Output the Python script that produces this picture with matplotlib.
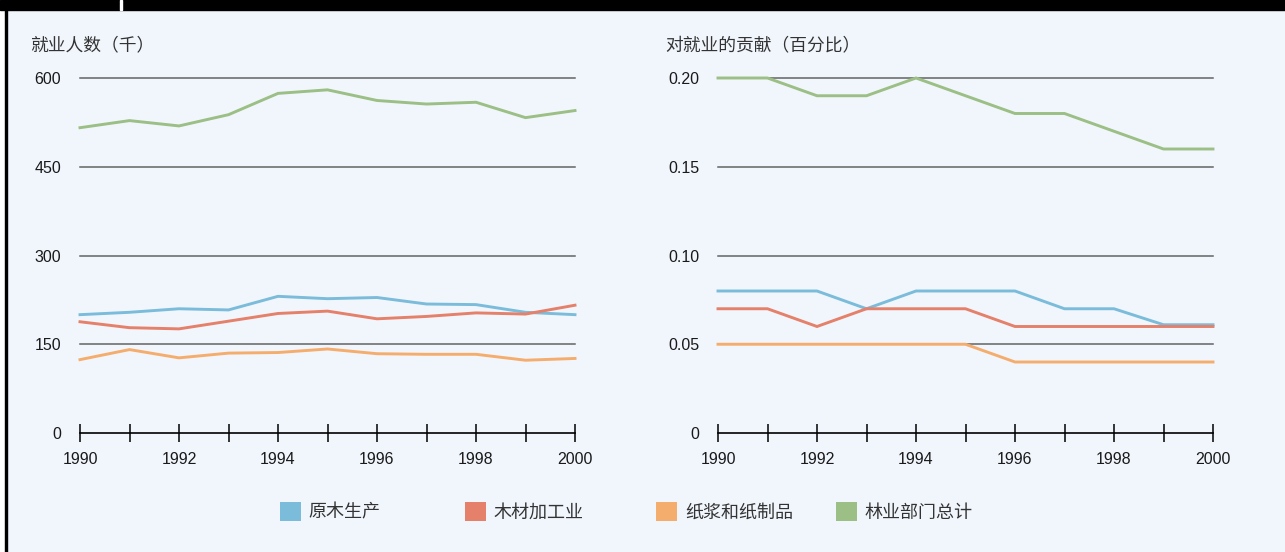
import matplotlib
matplotlib.use("Agg")
import matplotlib.pyplot as plt
from matplotlib.patches import Rectangle, Patch

plt.rcParams['font.family'] = ['Liberation Sans', 'Noto Sans CJK SC', 'DejaVu Sans']

years = list(range(1990, 2001))
series_names = ['原木生产', '木材加工业', '纸浆和纸制品', '林业部门总计']
colors = ['#7bbcdb', '#e5806a', '#f5ad6e', '#9bbf85']

# employment, thousands
emp_logging = [200, 204, 210, 208, 231, 227, 229, 218, 217, 204, 200]
emp_wood = [188, 178, 176, 189, 202, 206, 193, 197, 203, 201, 216]
emp_paper = [124, 141, 127, 135, 136, 142, 134, 133, 133, 123, 126]
emp_total = [516, 528, 519, 538, 574, 580, 562, 556, 559, 533, 545]

# share of total employment, percent
pct_logging = [0.08, 0.08, 0.08, 0.07, 0.08, 0.08, 0.08, 0.07, 0.07, 0.061, 0.061]
pct_wood = [0.07, 0.07, 0.06, 0.07, 0.07, 0.07, 0.06, 0.06, 0.06, 0.06, 0.06]
pct_paper = [0.05, 0.05, 0.05, 0.05, 0.05, 0.05, 0.04, 0.04, 0.04, 0.04, 0.04]
pct_total = [0.20, 0.20, 0.19, 0.19, 0.20, 0.19, 0.18, 0.18, 0.17, 0.16, 0.16]

left_ticks = [0, 150, 300, 450, 600]
left_labels = ['0', '150', '300', '450', '600']
right_ticks = [0, 0.05, 0.10, 0.15, 0.20]
right_labels = ['0', '0.05', '0.10', '0.15', '0.20']

BG = '#f1f6fd'
W, H = 1285, 552
fig = plt.figure(figsize=(W / 100, H / 100), dpi=100, facecolor=BG)

# frame: black strip along the top, thin rule down the left side
fig.patches.append(Rectangle((0, 1 - 9.5 / H), 1, 9.5 / H, transform=fig.transFigure,
                             color='black', zorder=5))
fig.patches.append(Rectangle((120 / W, 1 - 9.5 / H), 2.5 / W, 9.5 / H, transform=fig.transFigure,
                             color='white', zorder=6))
fig.patches.append(Rectangle((5 / W, 0), 1.8 / W, 1, transform=fig.transFigure,
                             color='black', zorder=5))
fig.patches.append(Rectangle((0, 0), 5 / W, 1 - 9.5 / H, transform=fig.transFigure,
                             color='white', zorder=4))


def px_axes(x0, x1, ytop, ybot):
    return fig.add_axes([x0 / W, 1 - ybot / H, (x1 - x0) / W, (ybot - ytop) / H])


def draw_panel(ax, data, ticks, labels, title, title_x):
    ax.set_facecolor('none')
    ax.set_xlim(1990, 2000)
    ax.set_ylim(ticks[0], ticks[-1])
    for s in ax.spines.values():
        s.set_visible(False)
    for t in ticks[1:]:
        ax.axhline(t, color='#636363', lw=1.1, zorder=1, clip_on=False)
    ax.axhline(ticks[0], color='black', lw=1.2, zorder=1, clip_on=False)
    for vals, c in zip(data, colors):
        ax.plot(years, vals, color=c, lw=2.1, zorder=3, clip_on=False,
                solid_joinstyle='miter')
    ax.set_yticks(ticks)
    ax.set_yticklabels(labels)
    ax.tick_params(axis='y', length=0, pad=13.5, labelsize=11.5, labelcolor='#1a1a1a')
    ax.set_xticks(years)
    ax.set_xticklabels([str(y) if y % 2 == 0 else '' for y in years])
    ax.tick_params(axis='x', direction='inout', length=13, width=1.1, color='black',
                   pad=7, labelsize=11.5, labelcolor='#1a1a1a')
    fig.text(title_x / W, 1 - 45 / H, title, fontsize=12.8, color='#333333',
             va='center', ha='left', family=['Noto Sans CJK SC', 'DejaVu Sans'])


ax1 = px_axes(80, 575, 78, 433)
draw_panel(ax1, [emp_logging, emp_wood, emp_paper, emp_total],
           left_ticks, left_labels, '就业人数（千）', 30)

ax2 = px_axes(718, 1213, 78, 433)
draw_panel(ax2, [pct_logging, pct_wood, pct_paper, pct_total],
           right_ticks, right_labels, '对就业的贡献（百分比）', 665)

# legend, one entry per column
legend_x = [280, 465, 656, 836]
for name, c, x in zip(series_names, colors, legend_x):
    leg = fig.legend(handles=[Patch(facecolor=c, edgecolor='none', label=name)],
                     loc='center left', bbox_to_anchor=(x / W, 1 - 512 / H),
                     frameon=False, borderpad=0, borderaxespad=0,
                     handlelength=1.15, handleheight=1.2, handletextpad=0.45,
                     prop={'family': ['Noto Sans CJK SC', 'DejaVu Sans'], 'size': 13})
    for t in leg.get_texts():
        t.set_color('#333333')

fig.savefig('out.png', dpi=100, facecolor=BG)
